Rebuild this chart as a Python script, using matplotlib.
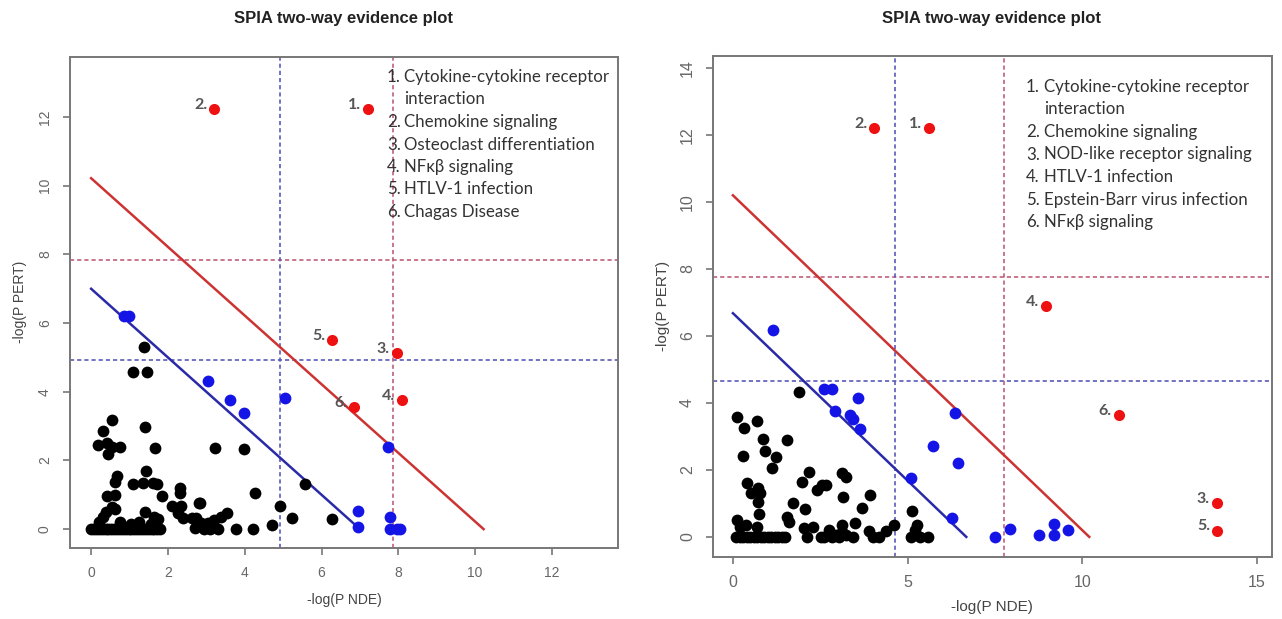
import matplotlib
matplotlib.use("Agg")
import matplotlib.pyplot as plt

# ── Data: left panel ──────────────────────────────────────────────────────────
left_black_x = [1.38, 1.10, 1.45, 0.54, 0.32, 0.19, 0.41, 0.54, 0.76, 0.45, 1.41, 1.67,
                3.23, 3.98, 1.42, 0.67, 0.63, 1.10, 1.36, 1.62, 1.71, 0.41, 0.63, 1.84,
                2.32, 2.32, 4.27, 5.57, 4.92, 5.23, 6.28, 2.80, 2.10, 2.35, 2.25, 2.38,
                2.73, 2.86, 3.04, 3.20, 3.38, 3.55, 3.78, 4.22, 4.70, 1.40, 1.75, 0.40,
                0.55, 0.62, 0.30, 0.20, 0.75, 1.05, 1.25, 1.55, 1.65, 2.63, 2.70, 2.84,
                0.00, 0.08, 0.15, 0.22, 0.30, 0.38, 0.45, 0.52, 0.60, 0.68, 0.75, 0.82,
                0.90, 0.98, 1.05, 1.12, 1.20, 1.28, 1.35, 1.42, 1.50, 1.58, 1.65, 1.72,
                1.80, 2.95, 3.10, 3.30]
left_black_y = [5.29, 4.58, 4.58, 3.18, 2.87, 2.45, 2.50, 2.40, 2.38, 2.20, 2.96, 2.37,
                2.37, 2.33, 1.70, 1.55, 1.38, 1.31, 1.33, 1.33, 1.31, 0.97, 0.99, 0.97,
                1.20, 1.05, 1.05, 1.30, 0.68, 0.31, 0.29, 0.77, 0.68, 0.68, 0.47, 0.31,
                0.31, 0.17, 0.17, 0.27, 0.36, 0.47, 0.00, 0.00, 0.13, 0.50, 0.30, 0.50,
                0.65, 0.58, 0.35, 0.20, 0.20, 0.15, 0.20, 0.15, 0.35, 0.32, 0.03, 0.75,
                0.00, 0.00, 0.00, 0.00, 0.00, 0.00, 0.00, 0.00, 0.00, 0.00, 0.00, 0.00,
                0.00, 0.00, 0.00, 0.00, 0.00, 0.00, 0.00, 0.00, 0.00, 0.00, 0.00, 0.00,
                0.00, 0.00, 0.00, 0.00]
left_blue_x = [0.85, 0.98, 3.05, 3.62, 3.98, 5.05, 7.72, 6.96, 6.96, 7.79, 7.79, 7.96, 8.05]
left_blue_y = [6.20, 6.20, 4.32, 3.76, 3.39, 3.81, 2.38, 0.53, 0.05, 0.34, 0.00, 0.00, 0.00]
left_red_x = [7.21, 3.20, 7.96, 8.10, 6.27, 6.85]
left_red_y = [12.23, 12.23, 5.12, 3.76, 5.50, 3.56]
left_red_lab = ["1.", "2.", "3.", "4.", "5.", "6."]
left_thr_blue = 4.93
left_thr_red = 7.85
left_line_blue = 7.0
left_line_red = 10.22
left_legend = [("1.", "Cytokine-cytokine receptor"), ("", "interaction"),
               ("2.", "Chemokine signaling"), ("3.", "Osteoclast differentiation"),
               ("4.", "NF\u03baβ signaling"), ("5.", "HTLV-1 infection"),
               ("6.", "Chagas Disease")]

# ── Data: right panel ─────────────────────────────────────────────────────────
right_black_x = [1.88, 0.11, 0.33, 0.68, 0.30, 0.87, 0.92, 1.54, 1.24, 1.13, 0.41, 0.53,
                 0.72, 0.78, 0.72, 0.76, 1.60, 1.73, 1.55, 2.07, 2.18, 1.97, 2.41, 2.56,
                 2.66, 3.12, 3.25, 3.15, 3.91, 3.70, 3.12, 3.50, 4.61, 5.13, 5.20, 5.28,
                 5.35, 5.11, 5.57, 4.38, 4.18, 4.00, 3.89, 0.11, 0.20, 0.38, 0.68, 2.03,
                 2.30, 2.51, 2.13, 3.12, 3.25, 3.43, 2.75, 2.95, 0.10, 0.20, 0.30, 0.40,
                 0.50, 0.60, 0.70, 0.80, 0.90, 1.00, 1.10, 1.20, 1.30, 1.40, 1.50, 2.60,
                 2.85, 3.05]
right_black_y = [4.34, 3.57, 3.26, 3.47, 2.42, 2.92, 2.58, 2.90, 2.40, 2.07, 1.60, 1.30,
                 1.45, 1.30, 1.05, 0.69, 0.45, 1.00, 0.60, 0.84, 1.95, 1.65, 1.40, 1.55,
                 1.55, 1.90, 1.80, 1.20, 1.25, 0.86, 0.36, 0.41, 0.36, 0.76, 0.22, 0.36,
                 0.00, 0.00, 0.00, 0.17, 0.00, 0.00, 0.17, 0.50, 0.30, 0.35, 0.30, 0.26,
                 0.30, 0.00, 0.00, 0.15, 0.07, 0.00, 0.20, 0.05, 0.00, 0.00, 0.00, 0.00,
                 0.00, 0.00, 0.00, 0.00, 0.00, 0.00, 0.00, 0.00, 0.00, 0.00, 0.00, 0.00,
                 0.00, 0.00]
right_blue_x = [1.16, 2.60, 2.85, 3.57, 2.93, 3.36, 3.44, 3.63, 6.35, 5.74, 6.43, 5.09,
                6.28, 7.51, 7.94, 8.77, 9.19, 9.19, 9.59]
right_blue_y = [6.18, 4.41, 4.41, 4.14, 3.77, 3.64, 3.51, 3.21, 3.71, 2.72, 2.22, 1.75,
                0.56, 0.00, 0.24, 0.07, 0.40, 0.07, 0.20]
right_red_x = [5.60, 4.05, 13.85, 8.95, 13.85, 11.04]
right_red_y = [12.20, 12.20, 1.02, 6.90, 0.19, 3.64]
right_red_lab = ["1.", "2.", "3.", "4.", "5.", "6."]
right_thr_blue = 4.65
right_thr_red = 7.75
right_line_blue = 6.68
right_line_red = 10.2
right_legend = [("1.", "Cytokine-cytokine receptor"), ("", "interaction"),
                ("2.", "Chemokine signaling"), ("3.", "NOD-like receptor signaling"),
                ("4.", "HTLV-1 infection"), ("5.", "Epstein-Barr virus infection"),
                ("6.", "NF\u03baβ signaling")]

# ── Style ─────────────────────────────────────────────────────────────────────
W, H = 1282, 619
GREY = "#666666"
LEG_FONT = ["Lato", "DejaVu Sans"]
plt.rcParams["font.family"] = ["Liberation Sans", "DejaVu Sans"]

fig = plt.figure(figsize=(W / 100, H / 100), dpi=100)


def px_box(x0, y0, x1, y1):
    return [x0 / W, 1 - y1 / H, (x1 - x0) / W, (y1 - y0) / H]


def panel(box, xlim, ylim, xticks, yticks, tick_fs,
          bx, by, ux, uy, rx, ry, rlab, thr_b, thr_r, line_b, line_r):
    ax = fig.add_axes(px_box(*box))
    ax.set_xlim(*xlim)
    ax.set_ylim(*ylim)
    ax.set_xticks(xticks)
    ax.set_yticks(yticks)
    for s in ax.spines.values():
        s.set_color("#777777")
        s.set_linewidth(1.4)
    ax.tick_params(colors="#777777", labelcolor=GREY, length=5, width=1.2,
                   labelsize=tick_fs, pad=8)
    for lab in ax.get_yticklabels():
        lab.set_rotation(90)
        lab.set_va("center")

    # threshold guides
    dash = (0, (2.5, 1.8))
    ax.axhline(thr_b, color="#5a5ab8", lw=1.2, ls=dash, zorder=1)
    ax.axhline(thr_r, color="#c0607a", lw=1.2, ls=dash, zorder=1)
    ax.axvline(thr_b, color="#5a5ab8", lw=1.2, ls=dash, zorder=1)
    ax.axvline(thr_r, color="#c0607a", lw=1.2, ls=dash, zorder=1)
    # combined evidence lines
    ax.plot([0, line_b], [line_b, 0], color="#2a2aa8", lw=1.8, zorder=2)
    ax.plot([0, line_r], [line_r, 0], color="#cc3333", lw=1.8, zorder=2)

    ax.scatter(bx, by, s=72, color="black", lw=0, zorder=3)
    ax.scatter(ux, uy, s=72, color="#1414e6", lw=0, zorder=4)
    ax.scatter(rx, ry, s=64, color="#ee1111", lw=0, zorder=4)
    for x, y, t in zip(rx, ry, rlab):
        ax.annotate(t, (x, y), xytext=(-5, 3), textcoords="offset points",
                    ha="right", va="center", fontsize=11.5, color="#555555",
                    family=LEG_FONT, fontweight="bold")
    return ax


axL = panel((70, 57, 618, 548), (-0.55, 13.72), (-0.55, 13.75),
            range(0, 13, 2), range(0, 13, 2), 10,
            left_black_x, left_black_y, left_blue_x, left_blue_y,
            left_red_x, left_red_y, left_red_lab,
            left_thr_blue, left_thr_red, left_line_blue, left_line_red)
axR = panel((713, 56, 1272, 557), (-0.57, 15.43), (-0.6, 14.36),
            [0, 5, 10, 15], range(0, 15, 2), 11.5,
            right_black_x, right_black_y, right_blue_x, right_blue_y,
            right_red_x, right_red_y, right_red_lab,
            right_thr_blue, right_thr_red, right_line_blue, right_line_red)

# titles and axis labels
fig.text(344 / W, 1 - 18 / H, "SPIA two-way evidence plot", ha="center", va="center",
         fontsize=12, fontweight="bold", color="#222222")
fig.text(992 / W, 1 - 18 / H, "SPIA two-way evidence plot", ha="center", va="center",
         fontsize=12, fontweight="bold", color="#222222")
fig.text(344 / W, 1 - 600 / H, "-log(P NDE)", ha="center", va="center",
         fontsize=10, color="#444444")
fig.text(992 / W, 1 - 607 / H, "-log(P NDE)", ha="center", va="center",
         fontsize=11, color="#444444")
fig.text(20 / W, 1 - 302 / H, "-log(P PERT)", ha="center", va="center", rotation=90,
         fontsize=10, color="#444444")
fig.text(663 / W, 1 - 306 / H, "-log(P PERT)", ha="center", va="center", rotation=90,
         fontsize=11, color="#444444")

# pathway legends
for (num_x, txt_x, y0), items in [((387, 404, 77), left_legend),
                                  ((1026, 1044, 87), right_legend)]:
    for i, (num, txt) in enumerate(items):
        y = 1 - (y0 + i * 22.5) / H
        if num:
            fig.text(num_x / W, y, num, ha="left", va="center", fontsize=12.2,
                     color="#333333", family=LEG_FONT)
        fig.text(txt_x / W, y, txt, ha="left", va="center", fontsize=12.2,
                 color="#333333", family=LEG_FONT)

fig.savefig("out.png", dpi=100, facecolor="white")
